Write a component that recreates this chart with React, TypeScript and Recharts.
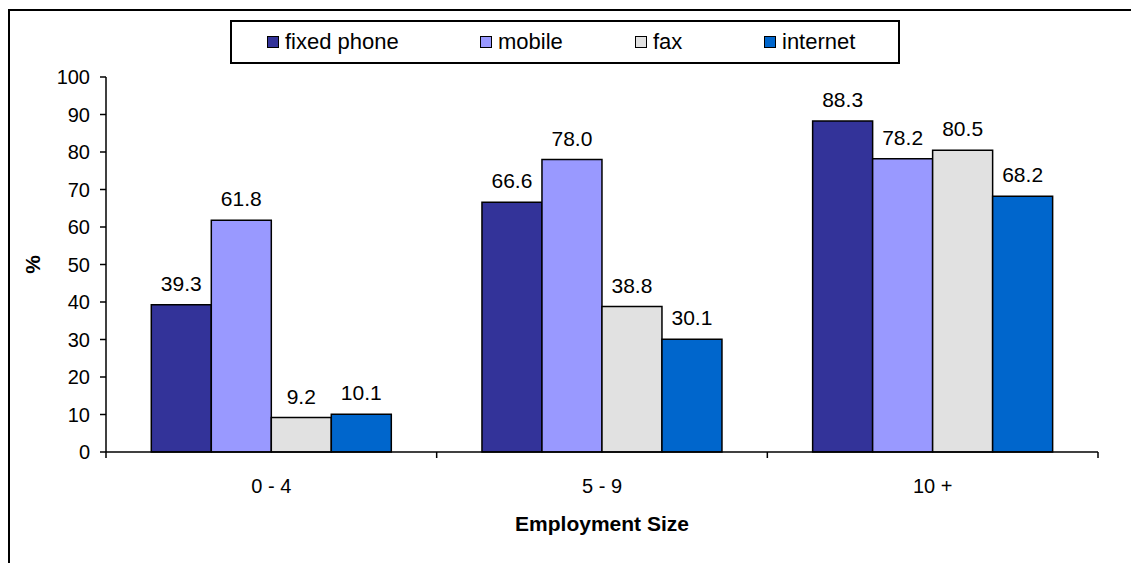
import { BarChart, Bar, XAxis, YAxis, LabelList, Label } from 'recharts'

const categories = ['0 - 4', '5 - 9', '10 +']
const fixedPhone = [39.3, 66.6, 88.3]
const mobile = [61.8, 78.0, 78.2]
const fax = [9.2, 38.8, 80.5]
const internet = [10.1, 30.1, 68.2]
const yTicks = [0, 10, 20, 30, 40, 50, 60, 70, 80, 90, 100]

const series = [
    { key: 'fixed', name: 'fixed phone', values: fixedPhone, color: '#333399' },
    { key: 'mobile', name: 'mobile', values: mobile, color: '#9999FF' },
    { key: 'fax', name: 'fax', values: fax, color: '#E1E1E1' },
    { key: 'internet', name: 'internet', values: internet, color: '#0066CC' },
]

const data = categories.map((name, i) => {
    const row: Record<string, string | number> = { name }
    series.forEach((s) => {
        row[s.key] = s.values[i]
    })
    return row
})

const FONT = '"Liberation Sans", Arial, sans-serif'
const TICK_FONT = 20
const LABEL_FONT = 21
const LEGEND_FONT = 22
const CHART_W = 1121
const CHART_H = 552
const MARGIN = { top: 66, right: 33, left: 36, bottom: 51 }
const PLOT_W = CHART_W - MARGIN.left - MARGIN.right - 60
const TICK_GAP = 27

// legend item widths, left to right
const legendWidths = [213, 155, 129, 100]

// category label plus boundary tick marks between groups
const CategoryTick = (props: any) => {
    const { x, y, payload, index, visibleTicksCount } = props
    const half = payload?.offset || PLOT_W / categories.length / 2
    const axisY = y - TICK_GAP
    return (
        <g>
            <line x1={x - half} x2={x - half} y1={axisY} y2={axisY + 6} stroke="#000" strokeWidth={1.5} />
            {index === visibleTicksCount - 1 && (
                <line x1={x + half} x2={x + half} y1={axisY} y2={axisY + 6} stroke="#000" strokeWidth={1.5} />
            )}
            <text x={x} y={y} dy="0.71em" textAnchor="middle" fontFamily={FONT} fontSize={TICK_FONT} fill="#000">
                {payload.value}
            </text>
        </g>
    )
}

const Legend = () => (
    <div
        style={{
            position: 'absolute',
            left: 220,
            top: 9,
            width: 670,
            height: 44,
            border: '2px solid #000',
            boxSizing: 'border-box',
            display: 'flex',
            alignItems: 'center',
            paddingLeft: 35,
            fontFamily: FONT,
            fontSize: LEGEND_FONT,
            background: '#fff',
        }}
    >
        {series.map((s, i) => (
            <div key={s.key} style={{ width: legendWidths[i], display: 'flex', alignItems: 'center' }}>
                <span
                    style={{
                        width: 10,
                        height: 10,
                        border: '1.5px solid #000',
                        background: s.color,
                        marginRight: 6,
                        flex: 'none',
                    }}
                />
                <span>{s.name}</span>
            </div>
        ))}
    </div>
)

export default function App() {
    return (
        <div style={{ width: 1131, height: 563, padding: '9px 0 0 8px', boxSizing: 'border-box', overflow: 'hidden', background: '#fff' }}>
            <style>{'body { margin: 0; }'}</style>
            <div
                style={{
                    position: 'relative',
                    width: 1123,
                    height: 554,
                    borderTop: '2px solid #000',
                    borderLeft: '2px solid #000',
                    boxSizing: 'border-box',
                }}
            >
                <Legend />
                <BarChart
                    width={CHART_W}
                    height={CHART_H}
                    data={data}
                    margin={MARGIN}
                    barCategoryGap="13.7%"
                    barGap={0}
                >
                    <XAxis
                        dataKey="name"
                        height={60}
                        axisLine={{ stroke: '#000', strokeWidth: 1.5 }}
                        tickLine={false}
                        tickSize={0}
                        tickMargin={TICK_GAP}
                        tick={<CategoryTick />}
                        interval={0}
                    >
                        <Label
                            content={(p: any) => {
                                const vb = p.viewBox || {}
                                return (
                                    <text
                                        x={vb.x + vb.width / 2}
                                        y={vb.y + vb.height + 11}
                                        textAnchor="middle"
                                        dominantBaseline="central"
                                        fontFamily={FONT}
                                        fontSize={LABEL_FONT}
                                        fontWeight="bold"
                                        fill="#000"
                                    >
                                        Employment Size
                                    </text>
                                )
                            }}
                        />
                    </XAxis>
                    <YAxis
                        width={60}
                        domain={[0, 100]}
                        ticks={yTicks}
                        interval={0}
                        axisLine={{ stroke: '#000', strokeWidth: 1.5 }}
                        tickLine={{ stroke: '#000', strokeWidth: 1.5 }}
                        tickSize={6}
                        tickMargin={10}
                        tick={{ fill: '#000', fontFamily: FONT, fontSize: TICK_FONT }}
                    >
                        <Label
                            content={(p: any) => {
                                const vb = p.viewBox || {}
                                const cx = vb.x - 14
                                const cy = vb.y + vb.height / 2
                                return (
                                    <text
                                        x={cx}
                                        y={cy}
                                        transform={`rotate(-90 ${cx} ${cy})`}
                                        textAnchor="middle"
                                        dominantBaseline="central"
                                        fontFamily={FONT}
                                        fontSize={LABEL_FONT}
                                        fontWeight="bold"
                                        fill="#000"
                                    >
                                        %
                                    </text>
                                )
                            }}
                        />
                    </YAxis>
                    {series.map((s) => (
                        <Bar
                            key={s.key}
                            dataKey={s.key}
                            name={s.name}
                            fill={s.color}
                            stroke="#000"
                            strokeWidth={1.5}
                            isAnimationActive={false}
                        >
                            <LabelList
                                dataKey={s.key}
                                position="top"
                                offset={14}
                                formatter={(v: any) => Number(v).toFixed(1)}
                                style={{ fill: '#000', fontFamily: FONT, fontSize: LABEL_FONT }}
                            />
                        </Bar>
                    ))}
                </BarChart>
            </div>
        </div>
    )
}
